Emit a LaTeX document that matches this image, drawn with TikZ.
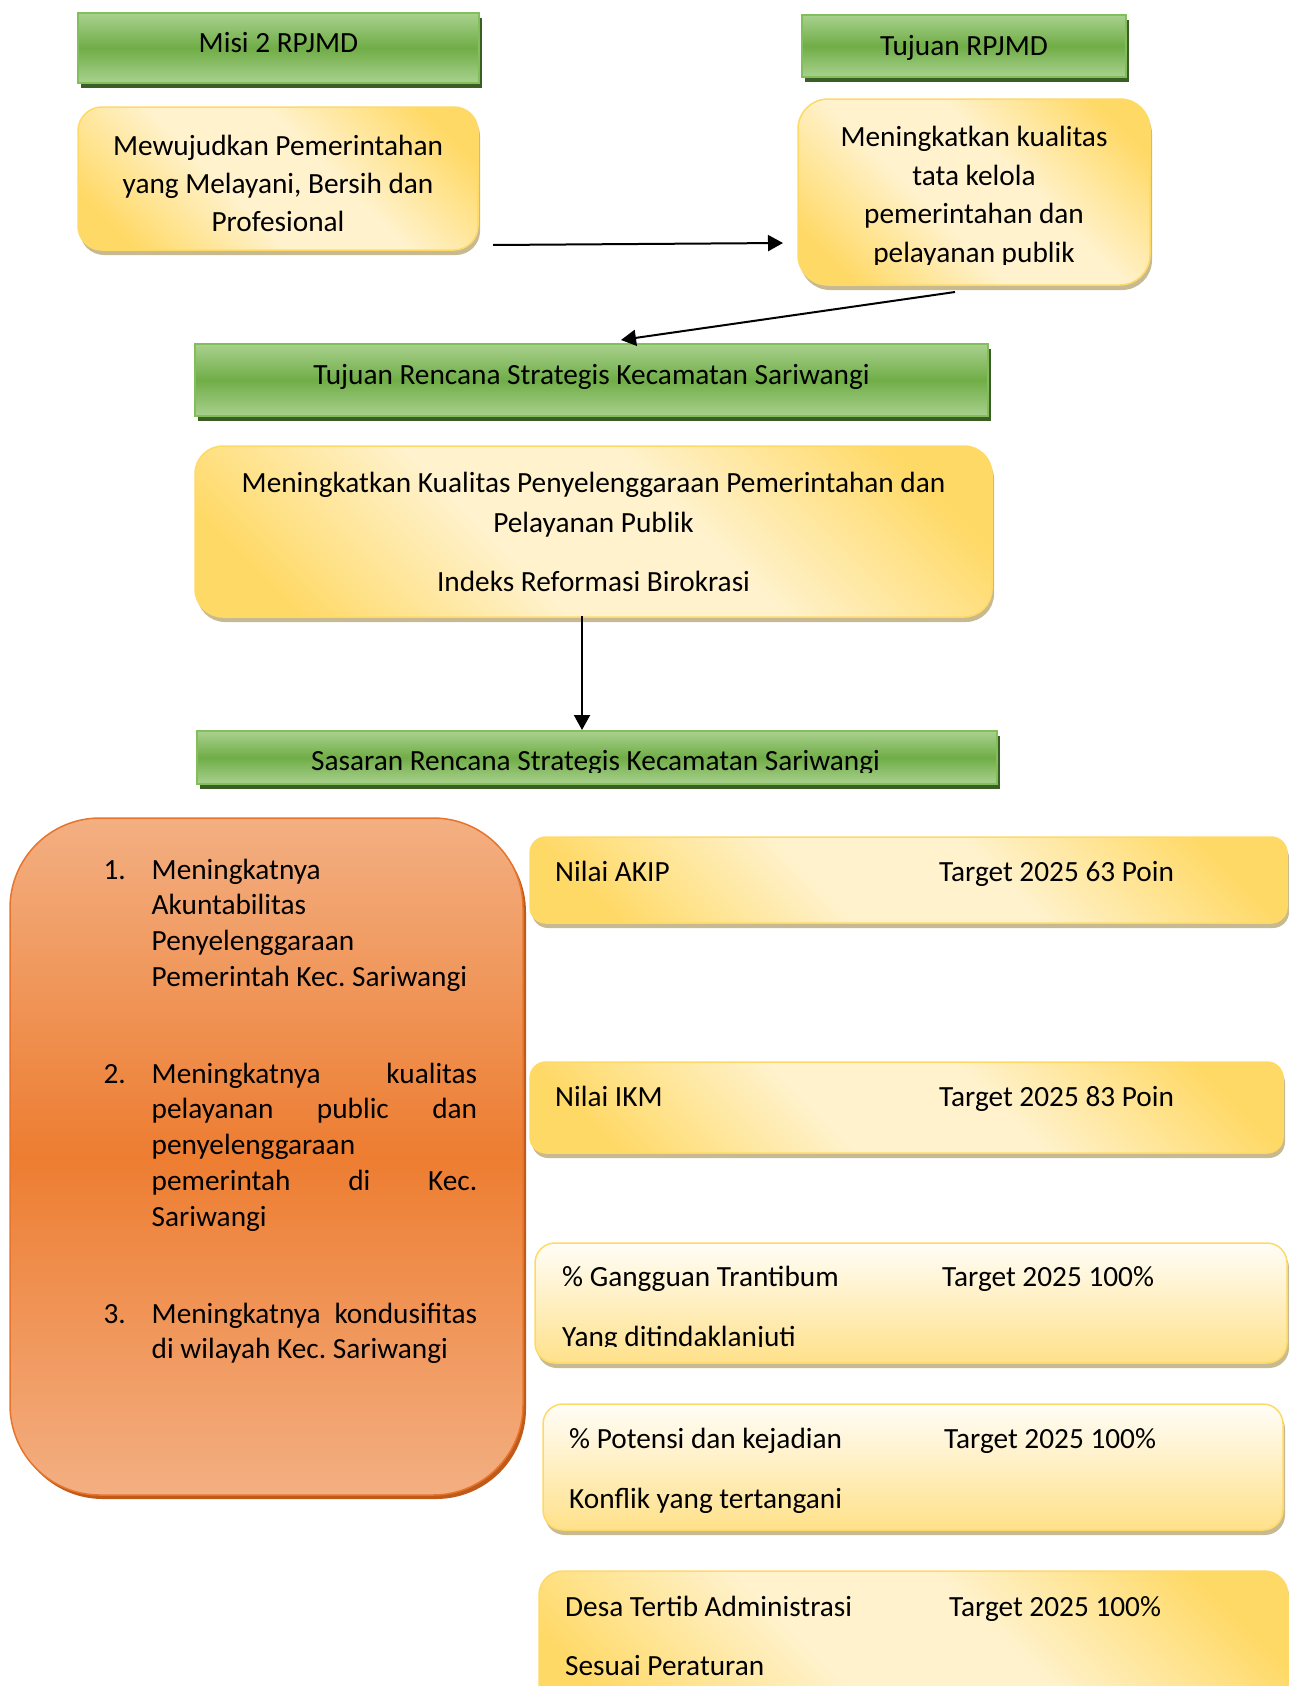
\documentclass[tikz,border=0pt]{standalone}
\usepackage{fontspec}
\setmainfont{Carlito}
\usepackage{tikz}
\usetikzlibrary{shadows}
\usetikzlibrary{arrows.meta}
\frenchspacing

\definecolor{gLight}{HTML}{A9D18E}
\definecolor{gMid}{HTML}{70AD47}
\definecolor{gLine}{HTML}{82BE5B}
\definecolor{gShade}{HTML}{3B5E25}
\definecolor{yLight}{HTML}{FFF2CC}
\definecolor{yDark}{HTML}{FFD966}
\definecolor{yMid}{HTML}{FFE18A}
\definecolor{yPale}{HTML}{FFFDF7}
\definecolor{yLine}{HTML}{FFD966}
\definecolor{yShade}{HTML}{C7B991}
\definecolor{oLight}{HTML}{F3AF82}
\definecolor{oMid}{HTML}{ED7D31}
\definecolor{oLine}{HTML}{E8742C}
\definecolor{oShade}{HTML}{BF5A18}

\pgfdeclareverticalshading{greenbar}{100bp}{color(0bp)=(gLight); color(25bp)=(gLight); color(50bp)=(gMid); color(75bp)=(gLight); color(100bp)=(gLight)}
\pgfdeclareverticalshading{golddiag}{100bp}{color(0bp)=(yDark); color(22bp)=(yDark); color(42bp)=(yLight); color(58bp)=(yLight); color(78bp)=(yDark); color(100bp)=(yDark)}
\pgfdeclareverticalshading{goldfade}{100bp}{color(0bp)=(yMid); color(25bp)=(yMid); color(75bp)=(yPale); color(100bp)=(yPale)}
\pgfdeclareverticalshading{orangebar}{100bp}{color(0bp)=(oLight); color(25bp)=(oLight); color(50bp)=(oMid); color(75bp)=(oLight); color(100bp)=(oLight)}

\begin{document}
\begin{tikzpicture}[x=1pt,y=-1pt,
  font=\fontsize{29.3}{38}\selectfont,
  bar/.style={rectangle,shade,shading=greenbar,draw=gLine,line width=1.5pt,inner sep=0pt,
    drop shadow={shadow xshift=3pt,shadow yshift=-5pt,fill=gShade,opacity=1}},
  goldbox/.style={rectangle,rounded corners=#1,shade,shading=golddiag,shading angle=-45,
    draw=yLine,line width=1.5pt,inner sep=0pt,
    drop shadow={shadow xshift=2pt,shadow yshift=-5pt,fill=yShade,opacity=1}},
  palebox/.style={goldbox=#1,shading=goldfade,shading angle=0},
  orangebox/.style={rectangle,rounded corners=90pt,shade,shading=orangebar,draw=oLine,
    line width=1.5pt,inner sep=0pt,
    drop shadow={shadow xshift=3pt,shadow yshift=-4pt,fill=oShade,opacity=1}},
  txt/.style={inner sep=0pt,anchor=base},
  ltxt/.style={inner sep=0pt,anchor=base west},
  link/.style={-{Triangle[length=15pt,width=16pt]},line width=2pt}]
\clip (0,0) rectangle (1289,1686);

% top row
\node[bar,minimum width=401pt,minimum height=70pt] (misi) at (278.5,48) {};
\node[txt] (misiLbl) at (278.5,52.5) {Misi 2 RPJMD};
\node[goldbox=24pt,minimum width=400pt,minimum height=143pt] (misiBox) at (278,178.5) {};
\node[txt] (misiTxt) at (278,155.5) {\parbox[t]{400pt}{\centering Mewujudkan Pemerintahan\\ yang Melayani, Bersih dan\\ Profesional}};

\node[bar,minimum width=324pt,minimum height=62pt] (tujuan) at (964,46) {};
\node[txt] (tujuanLbl) at (964,56) {Tujuan RPJMD};
\node[goldbox=30pt,minimum width=352pt,minimum height=186pt] (tujuanBox) at (974,192) {};
\begin{scope}
\clip (798,99) rectangle (1150,264);
\node[txt] (tujuanTxt) at (974,146.5) {\parbox[t]{352pt}{\centering\fontsize{29.3}{38.7}\selectfont Meningkatkan kualitas\\ tata kelola\\ pemerintahan dan\\ pelayanan publik}};
\end{scope}

% renstra
\node[bar,minimum width=793pt,minimum height=72pt] (renstra) at (591.5,380) {};
\node[txt] (renstraLbl) at (591.5,384.5) {Tujuan Rencana Strategis Kecamatan Sariwangi};
\node[goldbox=28pt,minimum width=797pt,minimum height=171pt] (renstraBox) at (593.5,531.5) {};
\node[txt] (renstraTxt) at (593.5,492.5) {\parbox[t]{797pt}{\centering\fontsize{29.3}{40}\selectfont Meningkatkan Kualitas Penyelenggaraan Pemerintahan dan\\ Pelayanan Publik\\[19pt] Indeks Reformasi Birokrasi}};

\node[bar,minimum width=800pt,minimum height=53pt] (sasaran) at (597,757.5) {};
\begin{scope}
\clip (197,731) rectangle (997,772);
\node[txt] (sasaranLbl) at (595.5,770) {Sasaran Rencana Strategis Kecamatan Sariwangi};
\end{scope}

% sasaran list
\node[orangebox,minimum width=513pt,minimum height=677pt] (goals) at (266.5,1156.5) {};
\node[ltxt] (n1) at (103.3,879) {1.};
\node[ltxt] (g1) at (151.5,879) {\parbox[t]{325.5pt}{\fontsize{29.3}{35.8}\selectfont Meningkatnya\\ Akuntabilitas\\ Penyelenggaraan\\ Pemerintah Kec. Sariwangi}};
\node[ltxt] (n2) at (103.3,1083) {2.};
\node[ltxt] (g2) at (151.5,1083) {\parbox[t]{325.5pt}{\fontsize{29.3}{35.8}\selectfont Meningkatnya\hfill kualitas\\ pelayanan\hfill public\hfill dan\\ penyelenggaraan\\ pemerintah\hfill di\hfill Kec.\\ Sariwangi}};
\node[ltxt] (n3) at (103.3,1323) {3.};
\node[ltxt] (g3) at (151.5,1323) {\parbox[t]{325.5pt}{\fontsize{29.3}{35.8}\selectfont Meningkatnya\hfill kondusifitas\\ di wilayah Kec. Sariwangi}};

% indikator
\node[goldbox=16pt,minimum width=757pt,minimum height=86pt] (akip) at (908.5,880) {};
\node[ltxt] (akipL) at (555,881.5) {Nilai AKIP};
\node[ltxt] (akipR) at (939,881.5) {Target 2025 63 Poin};

\node[goldbox=16pt,minimum width=753pt,minimum height=91pt] (ikm) at (906.5,1107.5) {};
\node[ltxt] (ikmL) at (555,1106.5) {Nilai IKM};
\node[ltxt] (ikmR) at (939,1106.5) {Target 2025 83 Poin};

\node[palebox=20pt,minimum width=752pt,minimum height=120pt] (trantib) at (911,1303) {};
\begin{scope}
\clip (535,1243) rectangle (1287,1346);
\node[ltxt] (trantibL) at (562,1286) {\parbox[t]{400pt}{\fontsize{29.3}{60}\selectfont\raggedright \% Gangguan Trantibum\\ Yang ditindaklanjuti}};
\end{scope}
\node[ltxt] (trantibR) at (942,1286) {Target 2025 100\%};

\node[palebox=20pt,minimum width=740pt,minimum height=126pt] (konflik) at (913,1467) {};
\node[ltxt] (konflikL) at (569,1448.5) {\parbox[t]{400pt}{\fontsize{29.3}{60}\selectfont\raggedright \% Potensi dan kejadian\\ Konflik yang tertangani}};
\node[ltxt] (konflikR) at (944,1448.5) {Target 2025 100\%};

\node[goldbox=24pt,minimum width=749pt,minimum height=160pt] (desa) at (913.5,1651) {};
\node[ltxt] (desaL) at (565,1616.5) {\parbox[t]{400pt}{\fontsize{29.3}{59}\selectfont\raggedright Desa Tertib Administrasi\\ Sesuai Peraturan}};
\node[ltxt] (desaR) at (949,1616.5) {Target 2025 100\%};

% arrows
\coordinate (a1s) at (493,245);
\coordinate (a1e) at (783,243);
\coordinate (a2s) at (955,292);
\coordinate (a2e) at (621,340);
\coordinate (a3s) at (582,616);
\coordinate (a3e) at (582,730);
\draw[link] (a1s) -- (a1e);
\draw[link] (a2s) -- (a2e);
\draw[link] (a3s) -- (a3e);
\end{tikzpicture}
\end{document}
